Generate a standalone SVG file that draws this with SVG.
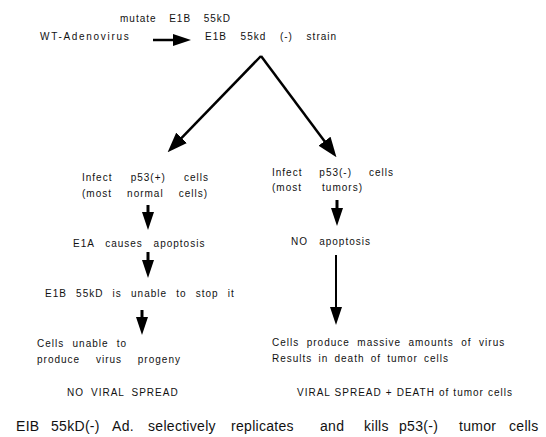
<svg xmlns="http://www.w3.org/2000/svg" width="546" height="437" viewBox="0 0 546 437">
<defs>
<style>
text{font-family:"Liberation Sans",Arial,sans-serif;font-size:10px;fill:#111;letter-spacing:1px}
.big{font-size:14px;letter-spacing:0.3px}
.c{stroke:#000;fill:none;stroke-width:2.5}
.t{stroke-width:3}
.n{stroke-width:2}
</style>
<marker id="ah" viewBox="0 -7.5 20 15" markerWidth="20" markerHeight="15" refX="1" refY="0" orient="auto" markerUnits="userSpaceOnUse">
<path d="M0,-7.5 L20,0 L0,7.5 Z" fill="#000"/>
</marker>
<marker id="as" viewBox="0 -6 18 12" markerWidth="18" markerHeight="12" refX="1" refY="0" orient="auto" markerUnits="userSpaceOnUse">
<path d="M0,-6 L18,0 L0,6 Z" fill="#000"/>
</marker>
</defs>
<rect width="546" height="437" fill="#fff"/>
<g id="connectors">
<line class="c" x1="153" y1="40" x2="174" y2="40" marker-end="url(#as)"/>
<line class="c" x1="261" y1="56" x2="180.9" y2="138.6" marker-end="url(#ah)"/>
<line class="c" x1="261" y1="56" x2="325.1" y2="142" marker-end="url(#ah)"/>
<line class="c t" x1="148" y1="205" x2="148" y2="213" marker-end="url(#as)"/>
<line class="c t" x1="148" y1="252" x2="148" y2="261" marker-end="url(#as)"/>
<line class="c t" x1="142" y1="310" x2="142" y2="318" marker-end="url(#as)"/>
<line class="c t" x1="337" y1="200" x2="337" y2="209" marker-end="url(#as)"/>
<line class="c n" x1="336" y1="255" x2="336" y2="308" marker-end="url(#as)"/>
</g>
<g id="n-mutate"><text x="120" y="22" word-spacing="8.8">mutate E1B 55kD</text></g>
<g id="n-wt"><text x="40" y="40" style="letter-spacing:1.7px">WT-Adenovirus</text></g>
<g id="n-strain"><text x="205" y="40" word-spacing="9.9">E1B 55kd (-) strain</text></g>
<g id="n-infect-plus">
<text x="82" y="181" word-spacing="14.4">Infect p53(+) cells</text>
<text x="82" y="197" word-spacing="11.3">(most normal cells)</text>
</g>
<g id="n-infect-minus">
<text x="272" y="176" word-spacing="13.1">Infect p53(-) cells</text>
<text x="272" y="191" word-spacing="16.3">(most tumors)</text>
</g>
<g id="n-e1a"><text x="73" y="247" word-spacing="7">E1A causes apoptosis</text></g>
<g id="n-noapop"><text x="291" y="245" word-spacing="7.4">NO apoptosis</text></g>
<g id="n-unable"><text x="45" y="297" word-spacing="5.4">E1B 55kD is unable to stop it</text></g>
<g id="n-cells-unable">
<text x="37" y="347" word-spacing="4.5">Cells unable to</text>
<text x="37" y="363" word-spacing="12">produce virus progeny</text>
</g>
<g id="n-cells-produce">
<text x="272" y="346" word-spacing="3.7">Cells produce massive amounts of virus</text>
<text x="272" y="362" word-spacing="2.4">Results in death of tumor cells</text>
</g>
<g id="n-nospread"><text x="67" y="396" word-spacing="3.2">NO VIRAL SPREAD</text></g>
<g id="n-spread"><text x="297" y="396" word-spacing="0.3">VIRAL SPREAD + DEATH of tumor cells</text></g>
<g id="n-summary"><text class="big" y="431"><tspan x="16">EIB</tspan> <tspan x="51">55kD(-)</tspan> <tspan x="112">Ad.</tspan> <tspan x="148">selectively</tspan> <tspan x="231">replicates</tspan> <tspan x="320">and</tspan> <tspan x="364">kills</tspan> <tspan x="399">p53(-)</tspan> <tspan x="459">tumor</tspan> <tspan x="509">cells</tspan></text></g>
</svg>
